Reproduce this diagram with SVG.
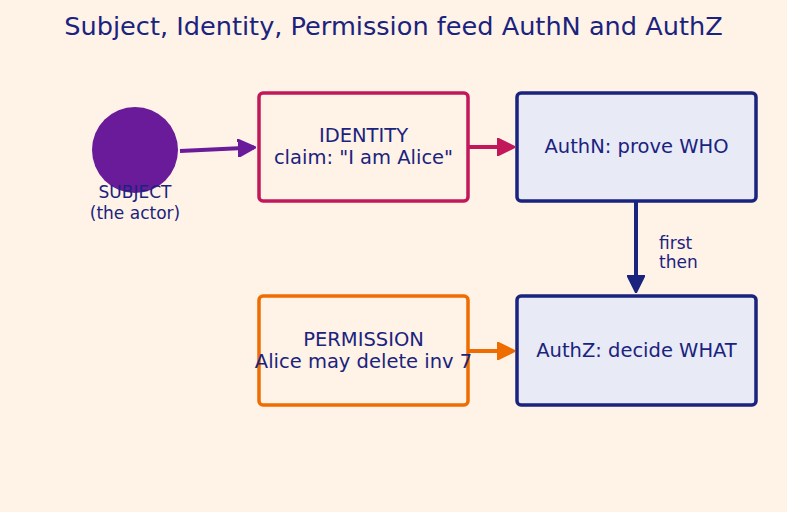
<svg xmlns="http://www.w3.org/2000/svg" width="787" height="512" viewBox="0 0 787 512">
<defs>
<style>
text{font-family:"DejaVu Sans","Liberation Sans",sans-serif;fill:#1a237e;text-anchor:middle}
.box{stroke-width:3.5}
.lbl{font-size:19.5px}
.small{font-size:17px}
.con{stroke-width:4;fill:none}
</style>
<marker id="ap" viewBox="0 0 10 10" refX="9" refY="5" markerWidth="4.5" markerHeight="4.5" orient="auto" markerUnits="strokeWidth"><path d="M0,0L10,5L0,10z" fill="#6a1b9a" stroke="#6a1b9a" stroke-linejoin="round"/></marker>
<marker id="ac" viewBox="0 0 10 10" refX="9" refY="5" markerWidth="4.5" markerHeight="4.5" orient="auto" markerUnits="strokeWidth"><path d="M0,0L10,5L0,10z" fill="#c2185b" stroke="#c2185b" stroke-linejoin="round"/></marker>
<marker id="ao" viewBox="0 0 10 10" refX="9" refY="5" markerWidth="4.5" markerHeight="4.5" orient="auto" markerUnits="strokeWidth"><path d="M0,0L10,5L0,10z" fill="#ef6c00" stroke="#ef6c00" stroke-linejoin="round"/></marker>
<marker id="an" viewBox="0 0 10 10" refX="9" refY="5" markerWidth="4.5" markerHeight="4.5" orient="auto" markerUnits="strokeWidth"><path d="M0,0L10,5L0,10z" fill="#1a237e" stroke="#1a237e" stroke-linejoin="round"/></marker>
</defs>
<rect width="787" height="512" fill="#fff2e6"/>
<text x="393.5" y="35" font-size="25.6">Subject, Identity, Permission feed AuthN and AuthZ</text>
<g id="connectors">
<path class="con" d="M180,151 L254,147.5" stroke="#6a1b9a" marker-end="url(#ap)"/>
<path class="con" d="M468,147 L513,147" stroke="#c2185b" marker-end="url(#ac)"/>
<path class="con" d="M468,351 L513,351" stroke="#ef6c00" marker-end="url(#ao)"/>
<path class="con" d="M636,201 L636,291" stroke="#1a237e" marker-end="url(#an)"/>
<text x="659" y="249" class="small" style="text-anchor:start">first</text>
<text x="659" y="268" class="small" style="text-anchor:start">then</text>
</g>
<g id="subject">
<circle cx="135" cy="150" r="43" fill="#6a1b9a"/>
<text x="135" y="198" class="small">SUBJECT</text>
<text x="135" y="219" class="small">(the actor)</text>
</g>
<g id="identity">
<rect class="box" x="259" y="93" width="209" height="108" rx="4" fill="#fff2e6" stroke="#c2185b"/>
<text x="363.5" y="142" class="lbl">IDENTITY</text>
<text x="363.5" y="164" class="lbl">claim: "I am Alice"</text>
</g>
<g id="authn">
<rect class="box" x="517" y="93" width="239" height="108" rx="4" fill="#e8eaf6" stroke="#1a237e"/>
<text x="636.5" y="153" class="lbl">AuthN: prove WHO</text>
</g>
<g id="permission">
<rect class="box" x="259" y="296" width="209" height="109" rx="4" fill="#fff2e6" stroke="#ef6c00"/>
<text x="363.5" y="346" class="lbl">PERMISSION</text>
<text x="363.5" y="368" class="lbl">Alice may delete inv 7</text>
</g>
<g id="authz">
<rect class="box" x="517" y="296" width="239" height="109" rx="4" fill="#e8eaf6" stroke="#1a237e"/>
<text x="636.5" y="357" class="lbl">AuthZ: decide WHAT</text>
</g>
</svg>
